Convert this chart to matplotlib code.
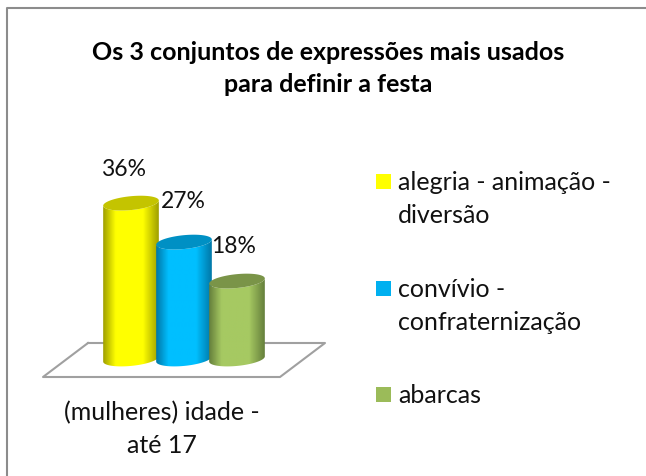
import numpy as np
import matplotlib
matplotlib.use('Agg')
import matplotlib.pyplot as plt
from matplotlib.colors import LinearSegmentedColormap
from matplotlib.patches import PathPatch
from matplotlib.path import Path

plt.rcParams['font.family'] = ['Lato', 'DejaVu Sans']

titulo = ['Os 3 conjuntos de expressões mais usados', 'para definir a festa']
categoria = ['(mulheres) idade -', 'até 17']
series = [['alegria - animação -', 'diversão'], ['convívio -', 'confraternização'], ['abarcas']]
valores = [36, 27, 18]
rotulos = ['36%', '27%', '18%']
cores = ['#ffff00', '#00bfff', '#a6c962']
cores_legenda = ['#ffff00', '#00b0f0', '#9bbb59']
cores_escuras = ['#a0a000', '#0078a8', '#66803c']
cores_topo = ['#c4c400', '#0090c4', '#7a9448']

W, H = 646, 477
TAM = 18
COR = '#111111'
fig = plt.figure(figsize=(W / 100, H / 100), dpi=100)

# moldura e textos em pixeis da imagem
fundo = fig.add_axes([0, 0, 1, 1])
fundo.set_xlim(0, W)
fundo.set_ylim(H, 0)
fundo.axis('off')
fundo.plot([7, 7, W], [H, 9, 9], color='#8c8c8c', lw=1.5)

for linha, y in zip(titulo, [60, 92]):
    fundo.text(328.5, y, linha, ha='center', va='baseline', fontsize=TAM, fontweight='bold', color='black')
for linha, y in zip(categoria, [420, 453]):
    fundo.text(161.5, y, linha, ha='center', va='baseline', fontsize=TAM, color=COR)

# legenda
for s, c, y0 in zip(series, cores_legenda, [190, 297, 403]):
    fundo.fill([376, 391, 391, 376], [y0 - 15, y0 - 15, y0, y0], color=c, lw=0)
    for j, linha in enumerate(s):
        fundo.text(398, y0 + 33 * j, linha, ha='left', va='baseline', fontsize=TAM, color=COR)

# eixo das barras: x = categoria, y = percentagem
px_x0, px_dx = 131, 53
px_y0, px_dy = 360, 4.33
ax_l, ax_r, ax_t, ax_b = 20, 340, 150, 390
ax = fig.add_axes([ax_l / W, 1 - ax_b / H, (ax_r - ax_l) / W, (ax_b - ax_t) / H])
xlim = ((ax_l - px_x0) / px_dx, (ax_r - px_x0) / px_dx)
ylim = ((px_y0 - ax_b) / px_dy, (px_y0 - ax_t) / px_dy)
ax.axis('off')

# chao
cx = (np.array([88, 325, 280, 43, 88]) - px_x0) / px_dx
cy = (px_y0 - np.array([344, 344, 378, 378, 344])) / px_dy
ax.plot(cx, cy, color='#a0a0a0', lw=1.5, zorder=1)

largura = 1.05
a = largura / 2
b = 1.6     # semi-eixo vertical da elipse
tilt = 0.6
t = np.linspace(0, 2 * np.pi, 100)
tb = np.linspace(np.pi, 2 * np.pi, 50)

for i, v in enumerate(valores):
    xb = i + a * np.cos(tb)
    yb = b * np.sin(tb) + tilt * np.cos(tb)
    # corpo: metade de baixo da base e metade de baixo do topo
    vx = np.r_[xb, xb[::-1]]
    vy = np.r_[yb, (yb + v)[::-1]]
    corpo = PathPatch(Path(np.c_[vx, vy]), fc='none', ec='none')
    ax.add_patch(corpo)
    cmap = LinearSegmentedColormap.from_list('c', [(0, cores_escuras[i]), (0.22, cores[i]),
                                                   (0.72, cores[i]), (1, cores_escuras[i])])
    im = ax.imshow(np.linspace(0, 1, 64)[None, :], cmap=cmap, aspect='auto',
                   extent=[i - a, i + a, -3, v + 3], zorder=2 + i, interpolation='bilinear')
    im.set_clip_path(corpo)
    ax.fill(i + a * np.cos(t), v + b * np.sin(t) + tilt * np.cos(t), color=cores_topo[i], lw=0, zorder=2.5 + i)

ax.set_xlim(xlim)
ax.set_ylim(ylim)

# rotulos dos valores
desloc_x = [-7.5, -1, -3]
desloc_y = [28, 35, 29]
for i, (v, r) in enumerate(zip(valores, rotulos)):
    ax.annotate(r, (i, v), xytext=(desloc_x[i], desloc_y[i]), textcoords='offset pixels',
                ha='center', va='baseline', fontsize=16.5, color=COR, zorder=10)

fig.savefig('out.png', dpi=100)
